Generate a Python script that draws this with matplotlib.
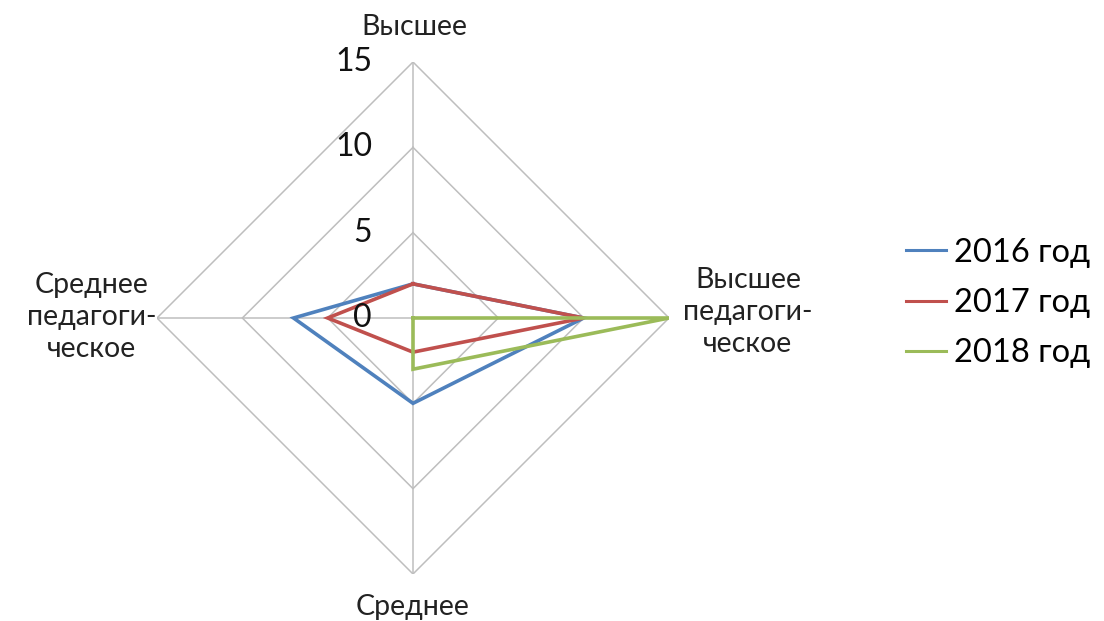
import numpy as np
import matplotlib
matplotlib.use("Agg")
import matplotlib.pyplot as plt
from matplotlib.transforms import offset_copy

categories = ["Высшее", "Высшее\nпедагоги-\nческое", "Среднее", "Среднее\nпедагоги-\nческое"]
series_names = ["2016 год", "2017 год", "2018 год"]
v2016 = [2, 10, 5, 7]
v2017 = [2, 10, 2, 5]
v2018 = [0, 15, 3, 0]
ticks = [0, 5, 10, 15]
colors = ["#4F81BD", "#C0504D", "#9BBB59"]

plt.rcParams['font.family'] = ['Lato', 'DejaVu Sans']

fig = plt.figure(figsize=(11.04, 6.21), dpi=100)
ax = fig.add_axes([157/1104, 47/621, 512/1104, 512/621], projection='polar')
ax.set_theta_offset(np.pi/2)
ax.set_theta_direction(-1)
ax.set_ylim(0, 15)
ax.grid(False)
ax.spines['polar'].set_visible(False)
ax.set_xticks([])
ax.set_yticks([])
ax.patch.set_alpha(0)

n = len(categories)
angles = np.arange(n) * 2*np.pi/n
closed = np.append(angles, angles[0])

grid_c = "#BEBEBE"
for t in ticks[1:]:
    ax.plot(closed, [t]*(n+1), color=grid_c, lw=1.1, zorder=1)
for a in angles:
    ax.plot([a, a], [0, 15], color=grid_c, lw=1.1, zorder=1)

for vals, name, c in zip([v2016, v2017, v2018], series_names, colors):
    ax.plot(closed, list(vals) + [vals[0]], color=c, lw=2.6, label=name, zorder=3,
            solid_joinstyle='miter')

tr = offset_copy(ax.transData, fig=fig, x=-41, y=0, units='dots')
for t in ticks:
    ax.text(0, t, str(t), transform=tr, ha='right', va='center', fontsize=23, color='#111111')

lab_kw = dict(fontsize=20.5, color='#222222', linespacing=1.27, ha='center')
fig.text(414/1104, 1 - 27/621, categories[0], va='center', **lab_kw)
fig.text(748/1104, 1 - 312/621, categories[1], va='center', **lab_kw)
fig.text(413/1104, 1 - 607/621, categories[2], va='center', **lab_kw)
fig.text(92/1104, 1 - 317/621, categories[3], va='center', **lab_kw)

leg = fig.legend(loc='center left', bbox_to_anchor=(877/1104, 1 - 303/621), frameon=False,
                 fontsize=23.5, handlelength=1.2, handletextpad=0.25, labelspacing=0.62)
for h in leg.get_lines():
    h.set_linewidth(2.2)

fig.savefig("out.png", dpi=100, facecolor='white')
